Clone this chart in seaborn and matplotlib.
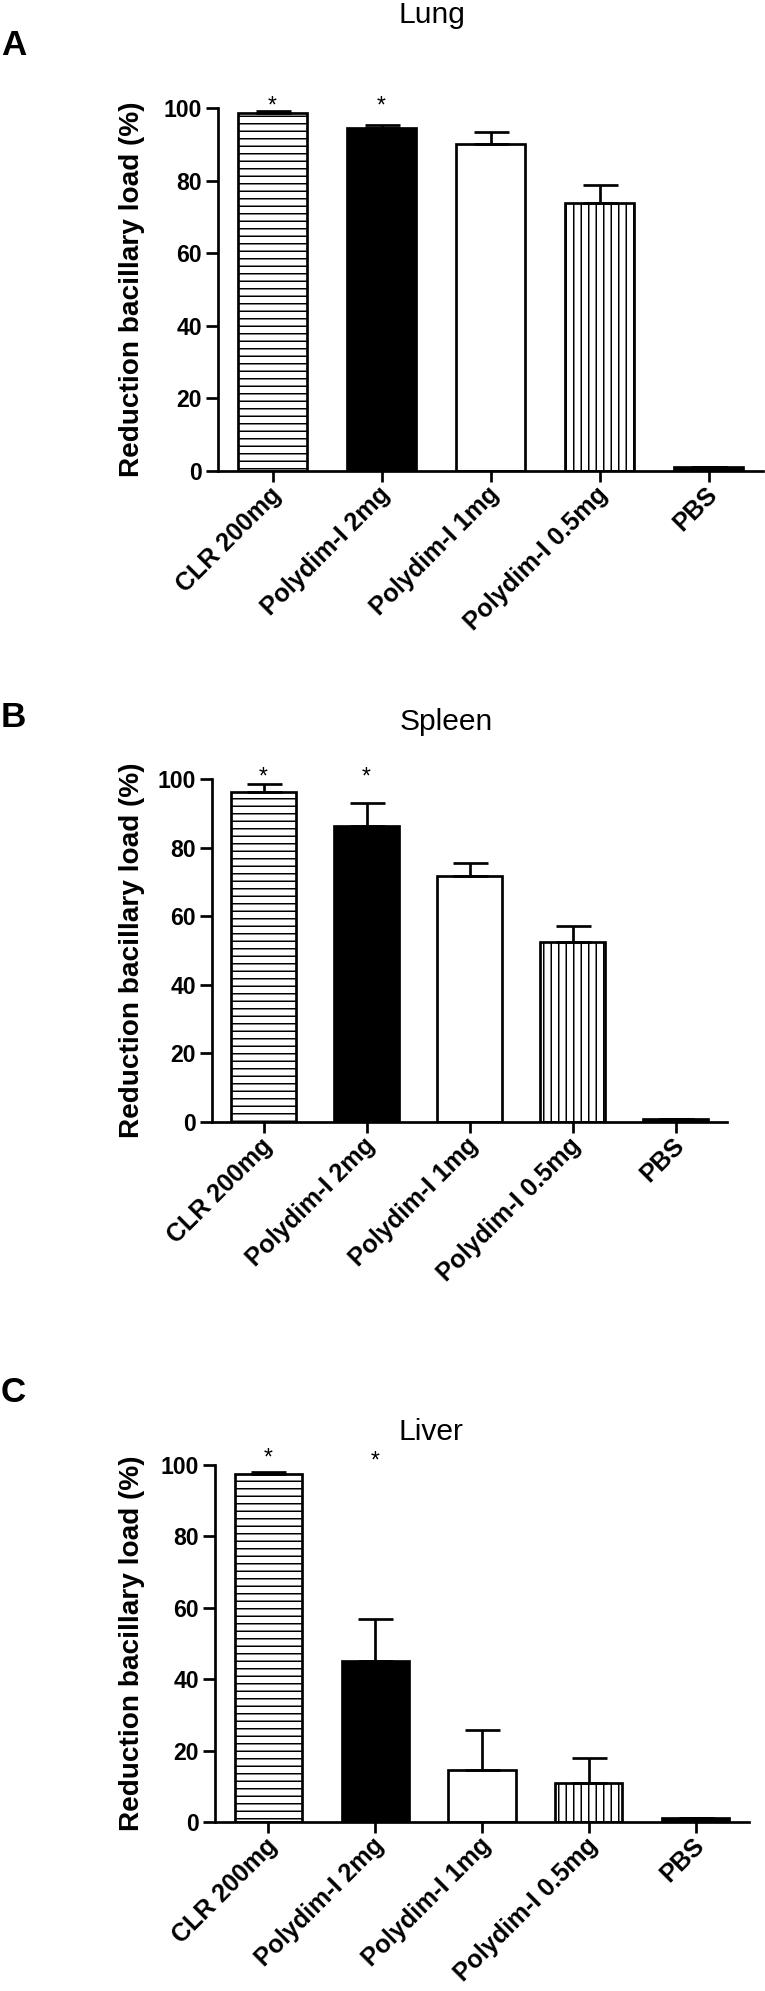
import numpy as np
import pandas as pd
import matplotlib
matplotlib.use("Agg")
import matplotlib.pyplot as plt
import matplotlib.transforms as mtrans
import seaborn as sns

# ---------------- data ----------------
categories = ["CLR 200mg", "Polydim-I 2mg", "Polydim-I 1mg", "Polydim-I 0.5mg", "PBS"]

lung_mean = [98.5, 94.6, 90.0, 73.9, 1.0]
lung_err = [0.7, 0.7, 3.4, 5.0, 0.0]
lung_star = [102.2, 102.2, None, None, None]

spleen_mean = [96.3, 86.3, 71.7, 52.6, 1.0]
spleen_err = [2.2, 6.6, 3.9, 4.5, 0.0]
spleen_star = [102.4, 102.4, None, None, None]

liver_mean = [97.6, 45.2, 14.5, 11.0, 1.0]
liver_err = [0.5, 11.6, 11.2, 6.8, 0.0]
liver_star = [103.7, 103.0, None, None, None]

titles = ["Lung", "Spleen", "Liver"]
letters = ["A", "B", "C"]
yticks = [0, 20, 40, 60, 80, 100]
ylabel = "Reduction bacillary load (%)"

# ---------------- style ----------------
sns.set_theme(style="ticks")
plt.rcParams["font.family"] = ["Liberation Sans", "DejaVu Sans"]
plt.rcParams["hatch.linewidth"] = 1.2
plt.rcParams["hatch.color"] = "black"
plt.rcParams["text.color"] = "black"
plt.rcParams["axes.labelcolor"] = "black"
plt.rcParams["xtick.color"] = "black"
plt.rcParams["ytick.color"] = "black"
plt.rcParams["axes.edgecolor"] = "black"

DPI = 90
W, H = 765, 1991
fig = plt.figure(figsize=(W / DPI, H / DPI), dpi=DPI)

def px(v):
    return v * 72.0 / DPI

# axes boxes in pixel coords: left, right, y(100), y(0)
boxes = [
    (218, 763, 108, 471),
    (212, 727, 779, 1122),
    (215, 749, 1465, 1822),
]
title_pos = [(432, 23), (446, 730), (431, 1440)]
letter_pos = [(1, 55), (1, 727), (1, 1402)]

fills = ["white", "black", "white", "white", "black"]
hatches = ["--", None, None, "||", None]

datasets = [
    (lung_mean, lung_err, lung_star),
    (spleen_mean, spleen_err, spleen_star),
    (liver_mean, liver_err, liver_star),
]

LW = px(2.7)

for k, (means, errs, stars) in enumerate(datasets):
    l, r, t, b = boxes[k]
    ax = fig.add_axes([l / W, 1 - b / H, (r - l) / W, (b - t) / H])
    df = pd.DataFrame({"group": categories, "value": means})
    sns.barplot(data=df, x="group", y="value", order=categories, ax=ax,
                width=0.63, color="white", edgecolor="black",
                linewidth=LW, errorbar=None, zorder=2)
    for p, fc, h in zip(ax.patches, fills, hatches):
        p.set_facecolor(fc)
        p.set_edgecolor("black")
        p.set_linewidth(LW)
        if h:
            p.set_hatch(h)
    xs = np.arange(len(categories))
    ax.errorbar(xs, means, yerr=[np.zeros(len(errs)), errs], fmt="none",
                ecolor="black", elinewidth=LW, capsize=px(17.5),
                capthick=LW, zorder=3)
    for i, s in enumerate(stars):
        if s is not None:
            ax.annotate("*", xy=(i, s), xytext=(0, -px(13)),
                        textcoords="offset points", ha="center",
                        va="baseline", fontsize=px(23), color="black",
                        annotation_clip=False)
    ax.set_xlim(-0.5, 4.5)
    ax.set_ylim(0, 100)
    ax.set_yticks(yticks)
    ax.set_yticklabels([str(v) for v in yticks], fontsize=px(23),
                       fontweight="bold", color="black")
    ax.set_xlabel("")
    ax.set_ylabel(ylabel, fontsize=px(28), fontweight="bold", color="black")
    ax.yaxis.label.set_va("center")
    ax.yaxis.set_label_coords((132 - l) / (r - l), 0.5)
    for sp in ["top", "right"]:
        ax.spines[sp].set_visible(False)
    for sp in ["left", "bottom"]:
        ax.spines[sp].set_linewidth(LW)
        ax.spines[sp].set_color("black")
    ax.tick_params(axis="y", length=px(12), width=LW, pad=px(4),
                   colors="black")
    ax.tick_params(axis="x", length=px(11), width=LW, pad=px(9),
                   colors="black")
    ax.set_xticks(xs)
    ax.set_xticklabels(categories, fontsize=px(25), fontweight="bold",
                       rotation=45, ha="right", va="center",
                       rotation_mode="anchor", color="black")
    off = mtrans.ScaledTranslation(5 / DPI, 0, fig.dpi_scale_trans)
    for lab in ax.get_xticklabels():
        lab.set_transform(lab.get_transform() + off)
    ax.set_facecolor("white")
    ax.grid(False)

    tx, ty = title_pos[k]
    fig.text(tx / W, 1 - ty / H, titles[k], ha="center", va="baseline",
             fontsize=px(30), color="black")
    lx, ly = letter_pos[k]
    fig.text(lx / W, 1 - ly / H, letters[k], ha="left", va="baseline",
             fontsize=px(35), fontweight="bold", color="black")

fig.savefig("out.png", dpi=DPI, facecolor="white")
